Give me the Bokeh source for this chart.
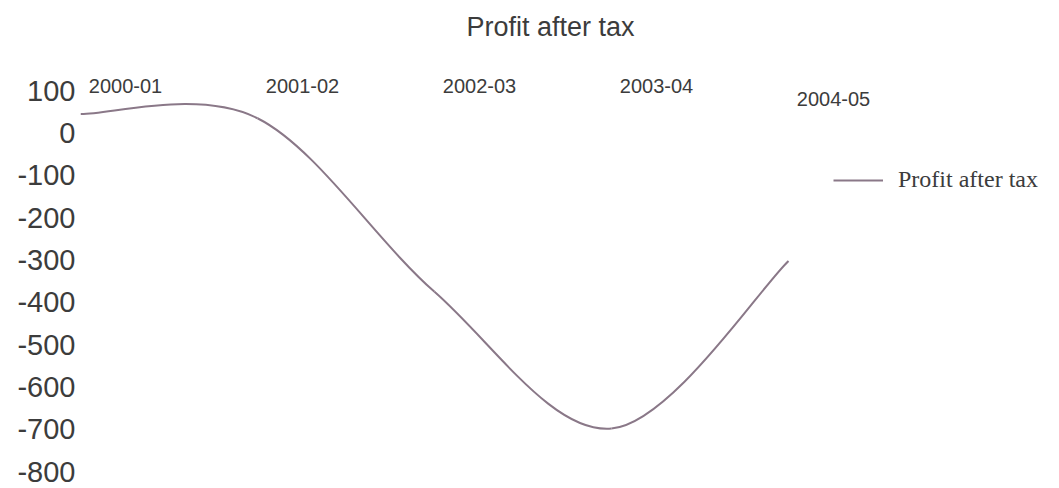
from bokeh.plotting import figure
from bokeh.models import Range1d, FixedTicker, Legend, LegendItem, ColumnDataSource
from bokeh.core.properties import value
from bokeh.embed import file_html
from bokeh.resources import INLINE

# ---- data ----
categories = ["2000-01", "2001-02", "2002-03", "2003-04", "2004-05"]
profit_after_tax = [45, 35, -375, -698, -302]
y_ticks = [100, 0, -100, -200, -300, -400, -500, -600, -700, -800]

series_name = "Profit after tax"
line_color = "#8a7888"
text_color = "#3c3c3c"

idx = list(range(len(categories)))

p = figure(width=1059, height=488, output_backend="svg", toolbar_location=None,
           x_range=Range1d(0, 5.531), y_range=Range1d(-830, 195),
           min_border_left=80, min_border_right=0, min_border_top=0, min_border_bottom=4,
           title="Profit after tax")
p.outline_line_color = None
p.grid.visible = False
p.xaxis.visible = False
p.background_fill_color = "white"
p.border_fill_color = "white"

p.title.align = "left"
p.title.offset = 386
p.title.standoff = 18
p.title.text_font = "Liberation Sans"
p.title.text_font_size = "27px"
p.title.text_font_style = "normal"
p.title.text_color = text_color

ya = p.yaxis[0]
ya.ticker = FixedTicker(ticks=y_ticks)
ya.major_label_overrides = {t: str(t) for t in y_ticks}
ya.axis_line_color = None
ya.major_tick_line_color = None
ya.minor_tick_line_color = None
ya.major_tick_out = 0
ya.major_tick_in = 0
ya.major_label_standoff = 5
ya.major_label_text_font = "Liberation Sans"
ya.major_label_text_font_size = "29px"
ya.major_label_text_color = text_color

# Smoothed line (Excel-style cardinal spline) built from the data values
n = len(idx)
x0, y0, x1, y1, cx0, cy0, cx1, cy1 = [], [], [], [], [], [], [], []
for i in range(n - 1):
    pa = (idx[i], profit_after_tax[i])
    pb = (idx[i + 1], profit_after_tax[i + 1])
    prev = (idx[i - 1], profit_after_tax[i - 1]) if i > 0 else pa
    nxt = (idx[i + 2], profit_after_tax[i + 2]) if i + 2 < n else pb
    ta = ((pb[0] - prev[0]) / 6.0, (pb[1] - prev[1]) / 6.0)
    tb = ((nxt[0] - pa[0]) / 6.0, (nxt[1] - pa[1]) / 6.0)
    x0.append(pa[0]); y0.append(pa[1])
    x1.append(pb[0]); y1.append(pb[1])
    cx0.append(pa[0] + ta[0]); cy0.append(pa[1] + ta[1])
    cx1.append(pb[0] - tb[0]); cy1.append(pb[1] - tb[1])

src = ColumnDataSource(dict(x0=x0, y0=y0, x1=x1, y1=y1, cx0=cx0, cy0=cy0, cx1=cx1, cy1=cy1))
curve = p.bezier(x0="x0", y0="y0", x1="x1", y1="y1", cx0="cx0", cy0="cy0", cx1="cx1", cy1="cy1",
                 source=src, line_color=line_color, line_width=2)

# legend sample: same series as a plain line on an unused range (off-screen)
p.extra_x_ranges = {"hidden": Range1d(100, 101)}
legend_proxy = p.line(x=idx, y=profit_after_tax, line_color=line_color, line_width=2,
                      x_range_name="hidden")

# category labels along the top
label_y = [111, 111, 111, 111, 80]
p.text(x=idx, y=label_y, text=categories, x_offset=45,
       text_align="center", text_baseline="middle",
       text_font=value("Liberation Sans"), text_font_size="20px", text_color=text_color)

legend = Legend(items=[LegendItem(label=series_name, renderers=[legend_proxy])],
                location=(753, 291), padding=0, margin=0, spacing=0,
                glyph_width=50, glyph_height=20, label_standoff=15,
                border_line_color=None, background_fill_alpha=0,
                label_text_font="Liberation Serif", label_text_font_size="24px",
                label_text_color=text_color)
p.add_layout(legend)

open("out.html", "w").write(file_html(p, INLINE))
